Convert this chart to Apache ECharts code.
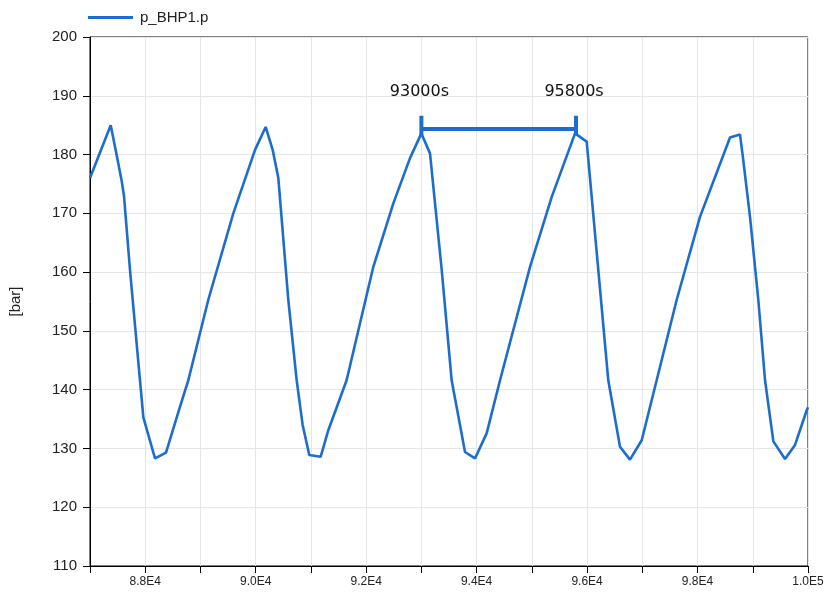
<!DOCTYPE html>
<html>
<head>
<meta charset="utf-8">
<script src="https://cdn.jsdelivr.net/npm/echarts@6/dist/echarts.min.js"></script>
<style>html,body{margin:0;padding:0;background:#fff}#c{width:830px;height:599px}</style>
</head>
<body>
<div id="c"></div>
<script>
var seriesName = 'p_BHP1.p';
var timeS = [87000,87375,87470,87574,87615,87724,87905,87966,88177,88376,88630,88780,89142,89595,89988,90181,
  90307,90410,90590,90742,90850,90970,91177,91315,91646,92130,92492,92794,93000,93156,93368,93548,93790,93971,
  94183,94424,94967,95360,95782,95993,96203,96384,96596,96777,96989,97260,97623,98044,98588,98769,98817,98950,
  99100,99222,99373,99584,99765,99977,100000];
var pressure = [176.0,185.0,180.5,175.5,173.0,160.4,141.6,135.3,128.3,129.3,137.1,141.6,155.3,170.0,180.8,184.7,
  180.8,176.0,155.3,141.6,134.0,128.9,128.6,133.1,141.6,160.9,171.7,179.4,183.6,180.2,160.4,141.6,129.4,128.3,
  132.6,141.6,160.9,172.8,183.6,182.2,160.4,141.6,130.3,128.1,131.4,141.6,155.3,169.4,182.9,183.4,179.9,169.4,
  155.3,141.6,131.2,128.2,130.6,136.5,137.0];
var markerTimes = [93000, 95800];
var markerLabels = ['93000s', '95800s'];
var markerLevel = 184.35;
var markerTickLow = 183.3, markerTickHigh = 186.6;
var markerLabelLevel = 190.6;
var yMin = 110, yMax = 200, yStep = 10;
var xMin = 87000, xMax = 100000, xStep = 1000;

var blue = '#1c6dce';
var series = [{
  name: seriesName, type: 'line', symbol: 'none', showSymbol: false,
  data: timeS.map(function(t, i){ return [t, pressure[i]]; }),
  lineStyle: {color: blue, width: 2.6}, itemStyle: {color: blue}, z: 3
}, {
  name: 'bar', type: 'line', symbol: 'none', silent: true,
  data: [[markerTimes[0], markerLevel], [markerTimes[1], markerLevel]],
  lineStyle: {color: blue, width: 4}, z: 4
}];
markerTimes.forEach(function(t){
  series.push({type: 'line', symbol: 'none', silent: true,
    data: [[t, markerTickLow], [t, markerTickHigh]],
    lineStyle: {color: blue, width: 4, cap: 'butt'}, z: 4});
});
series.push({type: 'scatter', silent: true, symbolSize: 1,
  itemStyle: {color: 'rgba(255,255,255,0)'},
  data: markerTimes.map(function(t, i){ return {value: [t, markerLabelLevel], label: {formatter: markerLabels[i]}}; }),
  label: {show: true, position: 'inside', offset: [-2, 0], color: '#111', opacity: 1, fontFamily: 'DejaVu Sans', fontSize: 16}, z: 5});

var chart = echarts.init(document.getElementById('c'), null, {renderer: 'canvas'});
chart.setOption({
  animation: false,
  backgroundColor: '#fff',
  legend: {data: [{name: seriesName, icon: 'rect'}], left: 83, top: 5, itemWidth: 45, itemHeight: 3, itemGap: 6,
    itemStyle: {color: blue},
    textStyle: {fontFamily: 'Liberation Sans', fontSize: 15, color: '#222', padding: [0, 0, 0, 2]}},
  grid: {left: 90, right: 22, top: 37, bottom: 33, show: true, borderColor: '#000', borderWidth: 1, backgroundColor: 'transparent'},
  xAxis: {type: 'value', min: xMin, max: xMax, interval: xStep,
    axisLine: {show: true, lineStyle: {color: '#000', width: 1}},
    axisTick: {show: true, length: 7, lineStyle: {color: '#000'}},
    splitLine: {show: true, lineStyle: {color: '#e6e6e6', width: 1}},
    axisLabel: {color: '#222', fontFamily: 'Liberation Sans', fontSize: 12, margin: 10, showMinLabel: true, showMaxLabel: true,
      formatter: function(v){ if (v % 2000 !== 0 || v === xMin) return ''; return v >= 100000 ? (v/1e5).toFixed(1) + 'E5' : (v/1e4).toFixed(1) + 'E4'; }}},
  yAxis: {type: 'value', min: yMin, max: yMax, interval: yStep, name: '[bar]', nameLocation: 'middle', nameGap: 67, nameRotate: 90,
    nameTextStyle: {color: '#222', fontFamily: 'Liberation Sans', fontSize: 15},
    axisLine: {show: true, lineStyle: {color: '#000', width: 1}},
    axisTick: {show: true, length: 7, lineStyle: {color: '#000'}},
    splitLine: {show: true, lineStyle: {color: '#e6e6e6', width: 1}},
    axisLabel: {color: '#222', fontFamily: 'Liberation Sans', fontSize: 15, margin: 13}},
  series: series
});
</script>
</body>
</html>
